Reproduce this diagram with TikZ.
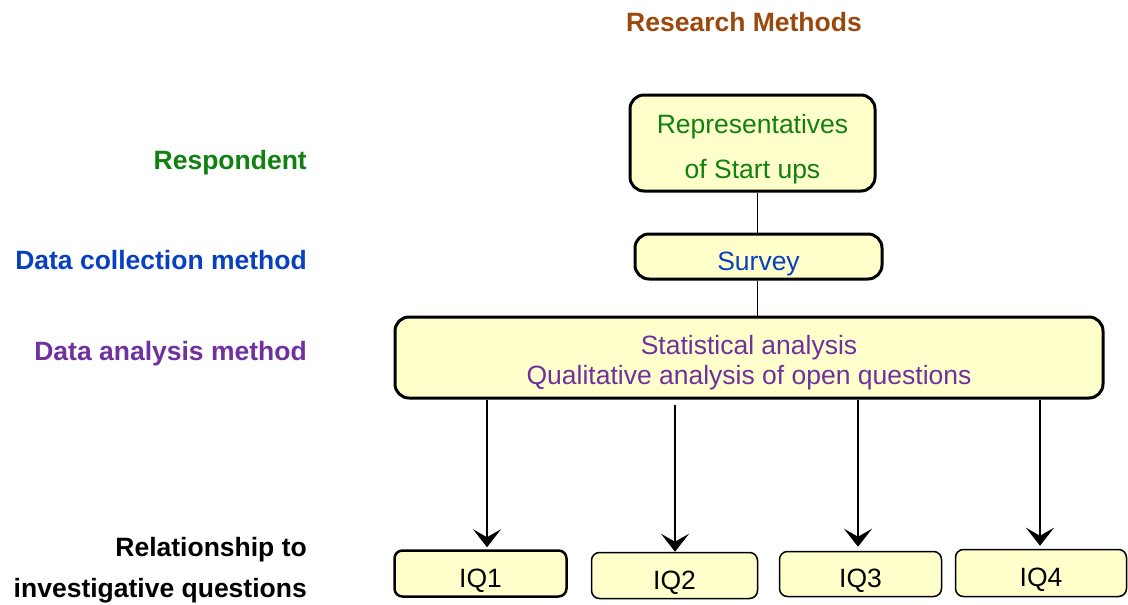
\documentclass[tikz,border=0pt]{standalone}
\usepackage{fontspec}
\setmainfont{Liberation Sans}
\usetikzlibrary{arrows.meta}
\definecolor{boxfill}{RGB}{255,255,204}
\definecolor{titlebrown}{RGB}{155,72,12}
\definecolor{respgreen}{RGB}{16,128,16}
\definecolor{collblue}{RGB}{8,64,192}
\definecolor{anapurple}{RGB}{112,48,160}
\begin{document}
\begin{tikzpicture}[x=1pt,y=-1pt,
  box/.style={draw=black, line width=3pt, rounded corners=14pt, fill=boxfill,
    align=center, inner sep=0pt, font=\fontsize{26.5}{45}\selectfont},
  iq/.style={draw=black, line width=1.5pt, rounded corners=8pt, fill=boxfill,
    inner sep=0pt, text height=27pt, text depth=0pt, font=\fontsize{26.5}{30}\selectfont},
  lab/.style={anchor=base east, inner sep=0pt, font=\bfseries\fontsize{26.5}{30}\selectfont},
  link/.style={line width=1pt},
  arr/.style={line width=2.5pt, -{Stealth[length=18pt,width=28pt,inset=8pt]}}]
\useasboundingbox (0,0) rectangle (1128,605);

% heading
\node[anchor=base, inner sep=0pt, text=titlebrown, font=\bfseries\fontsize{26.5}{30}\selectfont]
  (title) at (744,31) {Research Methods};

% row labels
\node[lab, text=respgreen] (lresp) at (307,169) {Respondent};
\node[lab, text=collblue] (lcoll) at (307,269) {Data collection method};
\node[lab, text=anapurple] (lana) at (307,360) {Data analysis method};
\node[lab] (lrel1) at (307,556) {Relationship to};
\node[lab] (lrel2) at (307,597) {investigative questions};

% method boxes
\node[box, text=respgreen, minimum width=245, minimum height=96] (resp) at (752.5,143)
  {\rule{0pt}{32pt}Representatives\\of Start ups};
\node[box, text=collblue, minimum width=247, minimum height=45,
  text height=27pt, text depth=0pt] (coll) at (758.5,256.5)
  {Survey};
\node[box, text=anapurple, minimum width=708, minimum height=81,
  font=\fontsize{26.5}{30}\selectfont] (ana) at (749,357.5)
  {\rule{0pt}{30pt}Statistical analysis\\Qualitative analysis of open questions};

% investigative questions
\node[iq, line width=2.5pt, minimum width=172, minimum height=46] (iq1) at (480.5,573.5) {IQ1};
\node[iq, minimum width=166, minimum height=46] (iq2) at (674.5,575.5) {IQ2};
\node[iq, minimum width=162, minimum height=45] (iq3) at (860.5,574) {IQ3};
\node[iq, minimum width=171, minimum height=47] (iq4) at (1041,573) {IQ4};

% connector columns
\coordinate (c0) at (757,0);
\coordinate (c1) at (487,0);
\coordinate (c2) at (675,0);
\coordinate (c3) at (858,0);
\coordinate (c4) at (1040,0);

% connectors
\draw[link] (resp.south -| c0) -- (coll.north -| c0);
\draw[link] (coll.south -| c0) -- (ana.north -| c0);
\draw[arr, shorten >=2pt] (ana.south -| c1) -- (iq1.north -| c1);
\draw[arr, shorten <=5pt] (ana.south -| c2) -- (iq2.north -| c2);
\draw[arr, shorten >=4pt] (ana.south -| c3) -- (iq3.north -| c3);
\draw[arr, shorten >=3pt] (ana.south -| c4) -- (iq4.north -| c4);
\end{tikzpicture}
\end{document}
